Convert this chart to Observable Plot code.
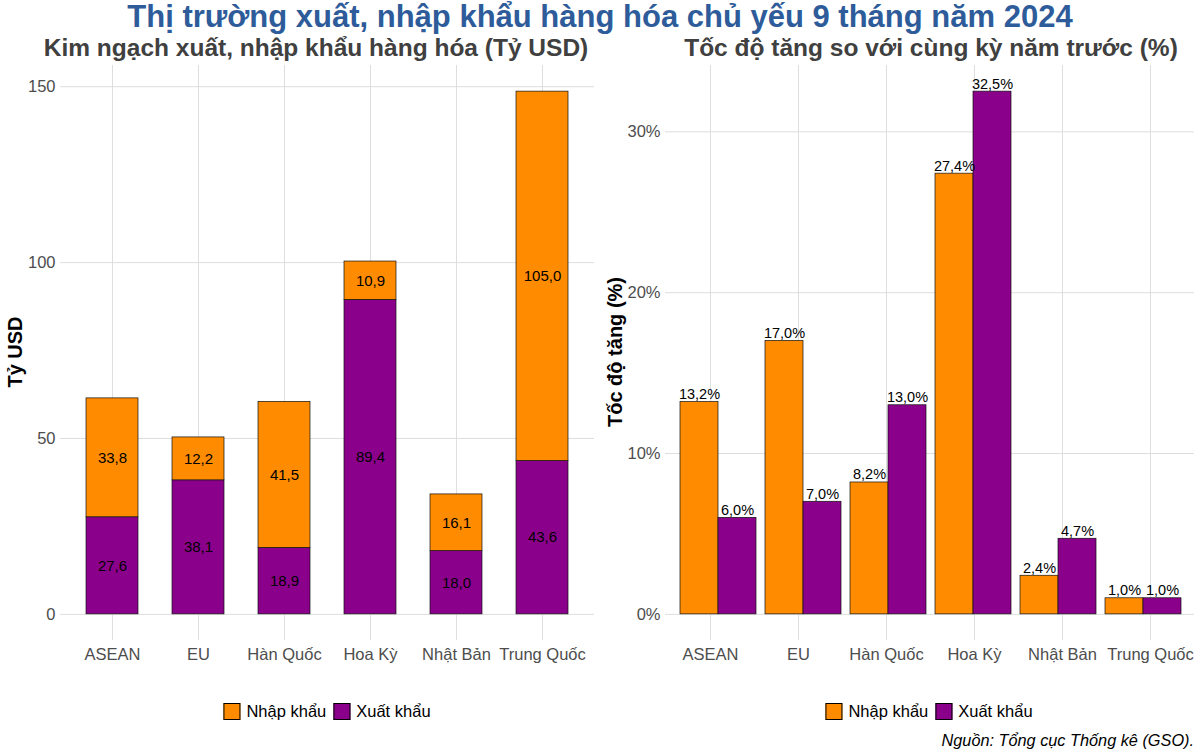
<!DOCTYPE html>
<html>
<head>
<meta charset="utf-8">
<script src="https://cdn.jsdelivr.net/npm/d3@7"></script>
<script src="https://cdn.jsdelivr.net/npm/@observablehq/plot@0.6"></script>
<style>
  html, body { margin: 0; padding: 0; background: #fff; }
  #root { position: relative; width: 1200px; height: 750px; overflow: hidden; font-family: "Liberation Sans", Arial, sans-serif; }
  .abs { position: absolute; white-space: nowrap; }
  .title { left: 0; width: 1200px; top: 0px; text-align: center; font-weight: bold; font-size: 31px; line-height: 34px; color: #2E5C9A; }
  .sub { top: 34px; font-weight: bold; font-size: 24.5px; line-height: 28px; color: #404040; transform: translateX(-50%); }
  .ylab { font-weight: bold; font-size: 20px; color: #000; transform: translate(-50%, -50%) rotate(-90deg); }
  .legend { top: 701px; display: flex; align-items: center; font-size: 16.5px; line-height: 20px; color: #000; transform: translateX(-50%); }
  .sw { width: 15px; height: 15px; border: 1px solid #000; margin-right: 6px; }
  .item { display: flex; align-items: center; margin-right: 7px; }
  .item:last-child { margin-right: 0; }
  .caption { right: 6px; top: 730px; font-style: italic; font-size: 16.3px; line-height: 20px; color: #000; }
  .plot { position: absolute; top: 0; }
</style>
</head>
<body>
<div id="root"></div>
<script>
const categories = ["ASEAN", "EU", "Hàn Quốc", "Hoa Kỳ", "Nhật Bản", "Trung Quốc"];
const types = ["Nhập khẩu", "Xuất khẩu"];
const colors = ["#FF8C00", "#8B008B"];
const exportValues = [27.6, 38.1, 18.9, 89.4, 18.0, 43.6];
const importValues = [33.8, 12.2, 41.5, 10.9, 16.1, 105.0];
const importGrowth = [13.2, 17.0, 8.2, 27.4, 2.4, 1.0];
const exportGrowth = [6.0, 7.0, 13.0, 32.5, 4.7, 1.0];
const leftTicks = [0, 50, 100, 150];
const rightTicks = [0, 10, 20, 30];
const titleText = "Thị trường xuất, nhập khẩu hàng hóa chủ yếu 9 tháng năm 2024";
const leftSubtitle = "Kim ngạch xuất, nhập khẩu hàng hóa (Tỷ USD)";
const rightSubtitle = "Tốc độ tăng so với cùng kỳ năm trước (%)";
const leftYLabel = "Tỷ USD";
const rightYLabel = "Tốc độ tăng (%)";
const captionText = "Nguồn: Tổng cục Thống kê (GSO).";

const fmt = v => v.toFixed(1).replace(".", ",");
const gridColor = "#dedede";
const font = "'Liberation Sans', Arial, sans-serif";

// Tables
const stackData = [];
categories.forEach((c, i) => {
  stackData.push({cat: c, type: "Xuất khẩu", value: exportValues[i]});
  stackData.push({cat: c, type: "Nhập khẩu", value: importValues[i]});
});
const growthData = [];
categories.forEach((c, i) => {
  growthData.push({cat: c, type: "Nhập khẩu", value: importGrowth[i]});
  growthData.push({cat: c, type: "Xuất khẩu", value: exportGrowth[i]});
});
const totals = categories.map((c, i) => exportValues[i] + importValues[i]);
const leftMax = d3.max(totals);
const rightMax = d3.max([...importGrowth, ...exportGrowth]);

const root = document.getElementById("root");
const dims = {width: 600, height: 750, marginTop: 65, marginBottom: 110, marginRight: 6};
const baseStyle = {fontFamily: font, fontSize: "16.5px", color: "#4d4d4d", background: "transparent"};

function place(svg, x) {
  svg.classList.add("plot");
  svg.style.left = x + "px";
  root.appendChild(svg);
}

// Left panel: stacked bars
place(Plot.plot({
  ...dims, marginLeft: 60,
  style: baseStyle,
  x: {domain: categories, paddingInner: 0.4, paddingOuter: 0.3, label: null},
  y: {domain: [-0.05 * leftMax, 1.05 * leftMax], label: null},
  color: {domain: types, range: colors},
  marks: [
    Plot.gridX({stroke: gridColor, strokeOpacity: 1, strokeWidth: 1}),
    Plot.gridY(leftTicks, {stroke: gridColor, strokeOpacity: 1, strokeWidth: 1}),
    Plot.axisX({tickSize: 0, tickPadding: 8, label: null, fontSize: 16.5}),
    Plot.axisY(leftTicks, {tickSize: 0, tickPadding: 5, label: null, fontSize: 16.5}),
    Plot.barY(stackData, {x: "cat", y: "value", z: "type", fill: "type", stroke: "#111", strokeWidth: 0.7, order: ["Xuất khẩu", "Nhập khẩu"]}),
    Plot.text(stackData, Plot.stackY({x: "cat", y: "value", z: "type", text: d => fmt(d.value), order: ["Xuất khẩu", "Nhập khẩu"], fill: "#000", fontSize: 15}))
  ]
}), 0);

// Right panel background: grid and axes
const rightY = {domain: [-0.05 * rightMax, 1.05 * rightMax], label: null};
place(Plot.plot({
  ...dims, marginLeft: 65,
  style: baseStyle,
  x: {domain: categories, paddingInner: 0.1, paddingOuter: 0.15, label: null},
  y: rightY,
  marks: [
    Plot.gridX({stroke: gridColor, strokeOpacity: 1, strokeWidth: 1}),
    Plot.gridY(rightTicks, {stroke: gridColor, strokeOpacity: 1, strokeWidth: 1}),
    Plot.axisX({tickSize: 0, tickPadding: 8, label: null, fontSize: 16.5}),
    Plot.axisY(rightTicks, {tickSize: 0, tickPadding: 5, label: null, fontSize: 16.5, tickFormat: d => d + "%"})
  ]
}), 600);

// Right panel foreground: dodged bars via facets
place(Plot.plot({
  ...dims, marginLeft: 65,
  style: baseStyle,
  fx: {domain: categories, paddingInner: 0.1, paddingOuter: 0.15, label: null, axis: null},
  x: {domain: types, padding: 0, axis: null},
  y: {...rightY, axis: null},
  color: {domain: types, range: colors},
  marks: [
    Plot.barY(growthData, {fx: "cat", x: "type", y: "value", fill: "type", stroke: "#111", strokeWidth: 0.7}),
    Plot.text(growthData, {fx: "cat", x: "type", y: "value", text: d => fmt(d.value) + "%", lineAnchor: "bottom", dy: -3, fill: "#000", fontSize: 14.5})
  ]
}), 600);

function addDiv(cls, text, styles) {
  const d = document.createElement("div");
  d.className = "abs " + cls;
  d.textContent = text;
  Object.assign(d.style, styles || {});
  root.appendChild(d);
  return d;
}
addDiv("title", titleText);
addDiv("sub", leftSubtitle, {left: "316px"});
addDiv("sub", rightSubtitle, {left: "931px"});
addDiv("ylab", leftYLabel, {left: "15px", top: "352px"});
addDiv("ylab", rightYLabel, {left: "615px", top: "352px"});
addDiv("caption", captionText);

function addLegend(x) {
  const lg = document.createElement("div");
  lg.className = "abs legend";
  lg.style.left = x + "px";
  types.forEach((t, i) => {
    const it = document.createElement("div");
    it.className = "item";
    const sw = document.createElement("div");
    sw.className = "sw";
    sw.style.background = colors[i];
    const tx = document.createElement("span");
    tx.textContent = t;
    it.appendChild(sw); it.appendChild(tx);
    lg.appendChild(it);
  });
  root.appendChild(lg);
}
addLegend(327);
addLegend(929);
</script>
</body>
</html>
